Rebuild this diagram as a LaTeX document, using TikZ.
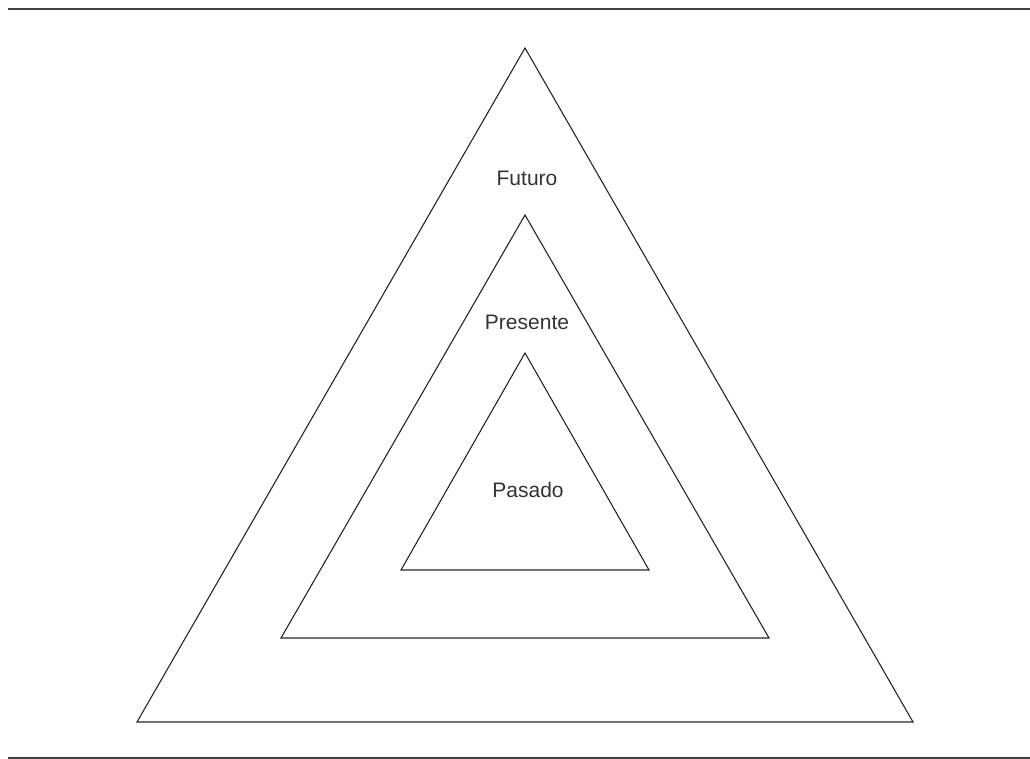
\documentclass[tikz,border=0pt]{standalone}
\usepackage{fontspec}
\setmainfont{Liberation Sans}
\usepackage{tikz}
\usetikzlibrary{positioning, calc}

\begin{document}
\begin{tikzpicture}[
			x=1pt, y=-1pt,
			% Styles
			rule/.style={draw=black!75, line width=1.8pt},
			layer/.style={draw=black!85, line width=1.1pt, line join=miter},
			tag/.style={font=\fontsize{21}{24}\selectfont, text=black!80, inner sep=0pt}
			]
			\useasboundingbox (0,0) rectangle (1030,759);
			
			% --- Rules top and bottom ---
			\draw[rule] (8,9) -- (1030,9);
			\draw[rule, line width=1.4pt] (8,758) -- (1030,758);
			
			% --- Triangles ---
			\draw[layer] (525,48) -- (913,722) -- (137,722) -- cycle;
			\draw[layer] (525,215) -- (769,638) -- (281,638) -- cycle;
			\draw[layer] (525,353) -- (649,570) -- (401,570) -- cycle;
			
			% --- Labels ---
			\node[tag] (futuro) at (527,178) {Futuro};
			\node[tag] (presente) at (527,322) {Presente};
			\node[tag] (pasado) at (528,490) {Pasado};
			
		\end{tikzpicture}
\end{document}
